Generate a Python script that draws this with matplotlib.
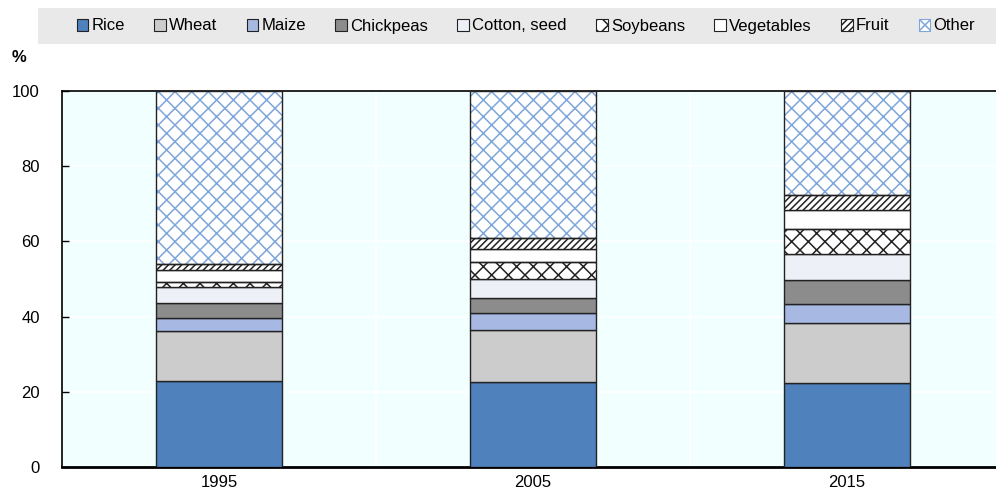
import matplotlib.pyplot as plt
import matplotlib.patches as mpatches
import numpy as np

years = ['1995', '2005', '2015']
crops = ['Rice', 'Wheat', 'Maize', 'Chickpeas', 'Cotton, seed', 'Soybeans',
         'Vegetables', 'Fruit', 'Other']
rice = [22.9, 22.5, 22.3]
wheat = [13.3, 13.9, 16.1]
maize = [3.5, 4.5, 5.0]
chickpeas = [3.8, 4.0, 6.3]
cotton = [4.4, 5.1, 6.9]
soybeans = [1.4, 4.6, 6.6]
vegetables = [3.1, 3.4, 5.1]
fruit = [1.5, 2.9, 4.0]
other = [46.1, 39.1, 27.7]

series = [rice, wheat, maize, chickpeas, cotton, soybeans, vegetables, fruit, other]
faces = ['#4F81BD', '#CCCCCC', '#A7B9E3', '#8C8C8C', '#EDF0F7', 'white', 'white', 'white', 'white']
hatches = [None, None, None, None, None, 'xx', None, '/////', 'xx']
hatch_cols = ['#222222'] * 8 + ['#7FA6DA']

fs = 12
plt.rcParams['font.family'] = ['Liberation Sans', 'DejaVu Sans']
plt.rcParams['hatch.linewidth'] = 1.1

fig = plt.figure(figsize=(9.96, 4.96), dpi=100)
ax = fig.add_axes([62 / 996, 1 - 467 / 496, 934 / 996, 376 / 496])
ax.set_facecolor('#F2FFFF')

x = np.arange(len(years))
w = 0.4
bottom = np.zeros(len(years))
handles = []
for vals, fc, h, hc, name in zip(series, faces, hatches, hatch_cols, crops):
    vals = np.array(vals)
    if h is not None:
        ax.bar(x, vals, w, bottom=bottom, color=fc, edgecolor=hc, hatch=h,
               linewidth=0, zorder=3)
        ax.bar(x, vals, w, bottom=bottom, fill=False, edgecolor='#222222',
               linewidth=1, zorder=4)
    else:
        ax.bar(x, vals, w, bottom=bottom, color=fc, edgecolor='#222222',
               linewidth=1, zorder=3)
    handles.append(mpatches.Patch(facecolor=fc, edgecolor=hc if h else '#222222',
                                  hatch=h, linewidth=0.8, label=name))
    bottom += vals

ax.set_xlim(-0.5, 2.475)
ax.set_ylim(0, 100)
ax.set_yticks(range(0, 101, 20))
ax.set_xticks(x)
ax.set_xticklabels(years)
for yv in range(20, 100, 20):
    ax.axhline(yv, color='white', lw=1.2, zorder=1)
for xv in [0.5, 1.5]:
    ax.axvline(xv, color='white', lw=1.2, zorder=1)
ax.tick_params(axis='y', direction='in', length=5, width=1, labelsize=fs, pad=16)
ax.tick_params(axis='x', length=0, labelsize=fs, pad=6)
ax.spines['right'].set_visible(False)
ax.spines['top'].set_linewidth(1.2)
ax.spines['left'].set_linewidth(1.2)
ax.spines['bottom'].set_linewidth(2)

fig.text(12 / 996, 1 - 58 / 496, '%', fontsize=fs, fontweight='bold', ha='left', va='center')

fig.patches.append(mpatches.Rectangle((38 / 996, 1 - 44 / 496), 958 / 996, 36 / 496,
                                      transform=fig.transFigure, facecolor='#E9E9E9',
                                      edgecolor='none', zorder=0))
fig.legend(handles=handles, labels=crops, ncol=9, loc='center',
           bbox_to_anchor=(526 / 996, 1 - 26 / 496), frameon=False, fontsize=fs,
           handlelength=0.7, handleheight=0.7, handletextpad=0.2, columnspacing=1.75,
           borderaxespad=0)

fig.savefig('out.png', dpi=100)
